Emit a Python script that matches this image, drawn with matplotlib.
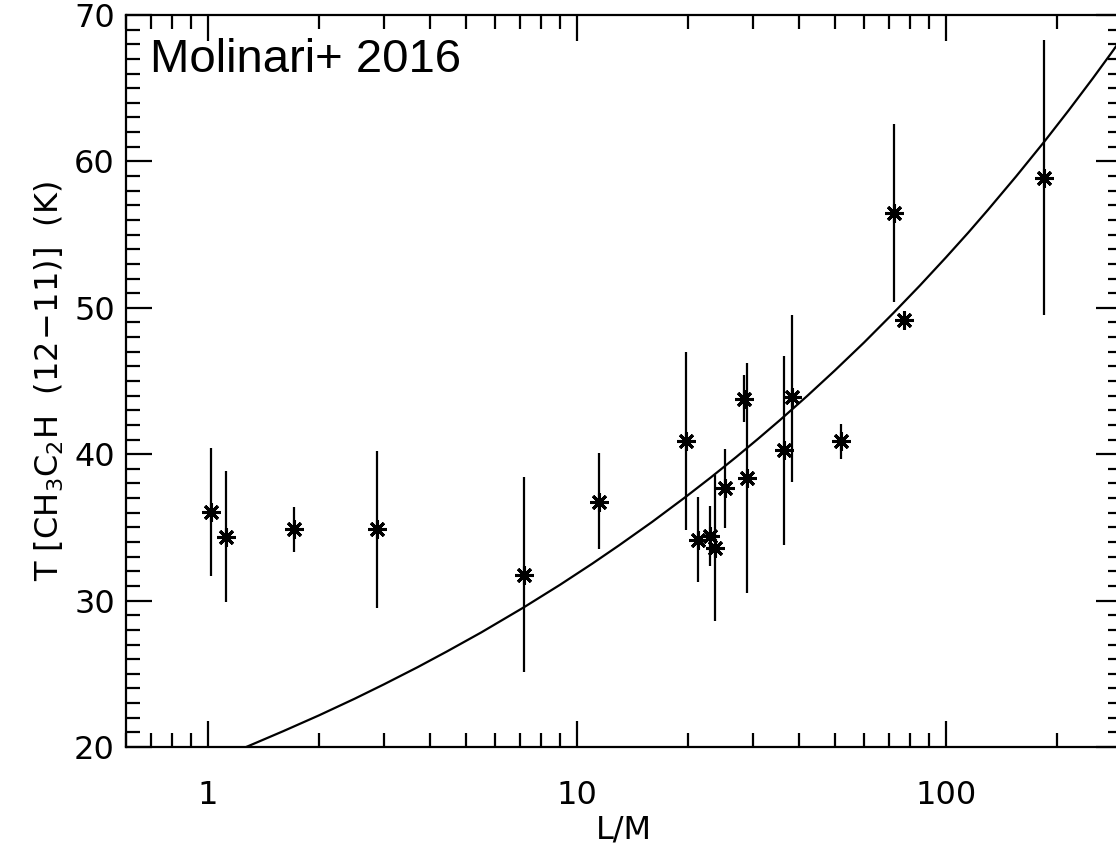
import numpy as np
import matplotlib
matplotlib.use("Agg")
import matplotlib.pyplot as plt
from matplotlib.ticker import LogLocator, MultipleLocator, FixedLocator, FixedFormatter

# L/M and CH3C2H temperatures
lm = [1.02, 1.12, 1.71, 2.88, 7.17, 11.5, 19.8, 21.3, 22.9, 23.7, 25.2,
      28.4, 28.9, 36.5, 38.2, 52.0, 72.1, 77.0, 184.9]
temp = [36.07, 34.37, 34.87, 34.87, 31.76, 36.75, 40.89, 34.14, 34.42, 33.58, 37.66,
        43.78, 38.39, 40.27, 43.9, 40.89, 56.49, 49.18, 58.86]
temp_hi = [40.45, 38.84, 36.41, 40.25, 38.41, 40.05, 46.98, 37.05, 36.45, 38.6, 40.34,
           45.38, 46.2, 46.74, 49.54, 42.05, 62.57, 49.45, 68.31]
temp_lo = [31.7, 29.9, 33.3, 29.49, 25.1, 33.5, 34.82, 31.26, 32.33, 28.58, 34.98,
           42.2, 30.49, 33.8, 38.1, 39.7, 50.39, 48.9, 49.54]

# fitted curve, points
fit_lm = [1.27, 1.6, 2.0, 2.5, 3.0, 3.7, 4.44, 5.5, 7.17, 9.0, 11.0, 13.0, 16.0,
          19.8, 23.0, 27.0, 31.0, 35.5, 42.0, 50.0, 60.0, 72.1, 85.0, 100.0,
          115.0, 130.0, 155.0, 184.9, 215.0, 250.0, 280.0, 310.0]
fit_t = [20.0, 21.08, 22.16, 23.30, 24.28, 25.45, 26.52, 27.82, 29.53, 31.08, 32.52,
         33.77, 35.38, 37.12, 38.39, 39.80, 41.06, 42.33, 43.96, 45.72, 47.63, 49.65,
         51.52, 53.44, 55.14, 56.69, 58.98, 61.36, 63.48, 65.67, 67.37, 68.93]

xticks = [1, 10, 100]
xticklabels = ["1", "10", "100"]
yticks = [20, 30, 40, 50, 60, 70]

plt.rcParams['font.family'] = ['DejaVu Sans']

fig = plt.figure(figsize=(11.16, 8.48), dpi=100)
ax = fig.add_axes([126 / 1116, 1 - 747 / 848, (1122 - 126) / 1116, (747 - 15) / 848])

lo = np.array(temp) - np.array(temp_lo)
hi = np.array(temp_hi) - np.array(temp)
ax.errorbar(lm, temp, yerr=[lo, hi], fmt='none', ecolor='black', elinewidth=1.6, capsize=0)
ax.plot(lm, temp, linestyle='none', marker=(8, 2, 0), markersize=13,
        markeredgewidth=2.2, color='black')
ax.plot(fit_lm, fit_t, color='black', linewidth=1.6)

ax.set_xscale('log')
ax.set_xlim(0.6, 300)
ax.set_ylim(20, 70)

ax.xaxis.set_major_locator(FixedLocator(xticks))
ax.xaxis.set_major_formatter(FixedFormatter(xticklabels))
ax.xaxis.set_minor_locator(LogLocator(base=10, subs=np.arange(2, 10)))
ax.xaxis.set_minor_formatter(plt.NullFormatter())
ax.yaxis.set_major_locator(FixedLocator(yticks))
ax.yaxis.set_minor_locator(MultipleLocator(1))

ax.tick_params(which='both', direction='in', top=True, right=True, width=1.6,
               labelsize=23, colors='black')
ax.tick_params(which='major', length=19)
ax.tick_params(which='minor', length=10)
ax.tick_params(axis='x', which='major', pad=24)
ax.tick_params(axis='y', which='major', pad=8)
for sp in ax.spines.values():
    sp.set_linewidth(1.6)

ax.set_xlabel('L/M', fontsize=23, labelpad=2)
ax.set_ylabel(r'T $\left[\mathrm{CH_3C_2H\ \ (12\!-\!11)}\right]$  (K)', fontsize=23, labelpad=6)

fig.text(150 / 1116, 1 - 72 / 848, 'Molinari+ 2016', fontsize=34,
         family=['Liberation Sans Narrow', 'Liberation Sans', 'DejaVu Sans'],
         va='baseline', ha='left')

fig.savefig('out.png', dpi=100)
